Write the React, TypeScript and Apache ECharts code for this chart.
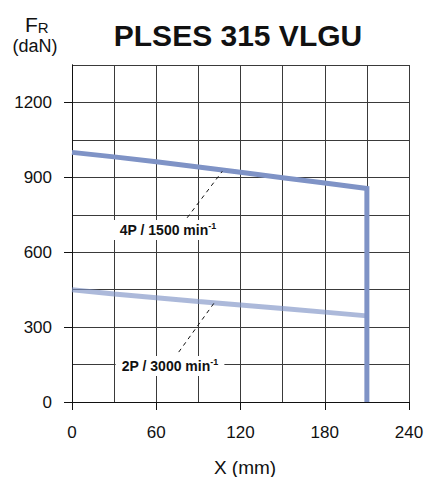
import React, { useEffect, useRef } from "react";
import * as echarts from "echarts";

const title = "PLSES 315 VLGU";
const xTicks = [0, 60, 120, 180, 240];
const yTicks = [0, 300, 600, 900, 1200];
const xPositions = [0, 30, 60, 90, 120, 150, 180, 210];
const fr4P = [1000, 982, 962, 941, 920, 898, 877, 855];
const fr2P = [450, 433, 418, 403, 389, 375, 360, 345];
const xMax = 210;
const leader4P = [[82, 738], [107, 924]];
const leader2P = [[76, 200], [101, 395]];
const label4P = ["4P / 1500 min", "-1"];
const label2P = ["2P / 3000 min", "-1"];

const FONT = "'Liberation Sans', Arial, sans-serif";

export default function App() {
  const ref = useRef<HTMLDivElement>(null);
  useEffect(() => {
    if (!ref.current) return;
    const chart = echarts.init(ref.current, undefined, { renderer: "svg" });
    const line4P = xPositions.map((x, i) => [x, fr4P[i]]);
    line4P.push([xMax, 0]);
    const line2P = xPositions.map((x, i) => [x, fr2P[i]]);
    const blue = "#7f93c6";
    const richLabel = (parts: string[]) => ({
      type: "text",
      style: {
        text: `{a|${parts[0]}}{s|${parts[1]}}`,
        rich: {
          a: { fontSize: 14, fontWeight: "bold", fontFamily: FONT, fill: "#111", lineHeight: 18 },
          s: { fontSize: 9, fontWeight: "bold", fontFamily: FONT, fill: "#111", lineHeight: 10, verticalAlign: "top" },
        },
        backgroundColor: "#fff",
        padding: [1, 6],
        align: "center",
        verticalAlign: "middle",
      },
    });
    const gridLine = { show: true, lineStyle: { color: "#3a3a3a", width: 1 } };
    const axisLine = { show: true, lineStyle: { color: "#111", width: 1 } };
    const numLabel = {
      fontSize: 17,
      fontFamily: FONT,
      color: "#111",
      formatter: (v: number) => String(v),
    };
    chart.setOption({
      animation: false,
      backgroundColor: "#fff",
      grid: { left: 72, right: 18, top: 65, bottom: 75 },
      xAxis: [
        {
          type: "value",
          min: 0,
          max: 240,
          interval: 30,
          axisLine,
          axisTick: { show: false },
          axisLabel: { show: false },
          splitLine: gridLine,
        },
        {
          type: "value",
          position: "bottom",
          offset: 0,
          min: 0,
          max: 240,
          interval: 60,
          axisLine,
          axisTick: { show: true, length: 8, customValues: xTicks, lineStyle: { color: "#111" } },
          axisLabel: { ...numLabel, customValues: xTicks, margin: 22 },
          splitLine: { show: false },
        },
      ],
      yAxis: [
        {
          type: "value",
          min: 0,
          max: 1350,
          interval: 150,
          axisLine,
          axisTick: { show: false },
          axisLabel: { show: false },
          splitLine: gridLine,
        },
        {
          type: "value",
          position: "left",
          offset: 0,
          min: 0,
          max: 1350,
          interval: 150,
          axisLine,
          axisTick: { show: true, length: 8, customValues: yTicks, lineStyle: { color: "#111" } },
          axisLabel: { ...numLabel, customValues: yTicks, margin: 20 },
          splitLine: { show: false },
        },
      ],
      series: [
        {
          type: "line",
          data: line2P,
          symbol: "none",
          lineStyle: { color: "rgba(127,147,198,0.65)", width: 5 },
          z: 2,
        },
        {
          type: "line",
          data: line4P,
          symbol: "none",
          lineStyle: { color: blue, width: 5, join: "miter", cap: "butt" },
          z: 3,
        },
        {
          type: "line",
          data: leader4P,
          symbol: "none",
          lineStyle: { color: "#111", width: 1, type: [4, 4] },
          z: 4,
        },
        {
          type: "line",
          data: leader2P,
          symbol: "none",
          lineStyle: { color: "#111", width: 1, type: [4, 4] },
          z: 4,
        },
      ],
      graphic: [
        {
          type: "text",
          x: 238,
          y: 35,
          style: {
            text: title,
            fontSize: 30,
            fontWeight: "bold",
            fontFamily: FONT,
            fill: "#111",
            align: "center",
            verticalAlign: "middle",
          },
        },
        {
          type: "text",
          x: 25,
          y: 27,
          style: {
            text: "{f|F}{r|R}",
            rich: {
              f: { fontSize: 21, fontFamily: FONT, fill: "#111", lineHeight: 16, verticalAlign: "bottom" },
              r: { fontSize: 15, fontFamily: FONT, fill: "#111", lineHeight: 12, verticalAlign: "bottom" },
            },
            align: "left",
            verticalAlign: "middle",
          },
        },
        {
          type: "text",
          x: 35,
          y: 46,
          style: { text: "(daN)", fontSize: 18, lineHeight: 17, fontFamily: FONT, fill: "#111", align: "center", verticalAlign: "middle" },
        },
        {
          type: "text",
          x: 245,
          y: 467,
          style: { text: "X (mm)", fontSize: 19, fontFamily: FONT, fill: "#111", align: "center", verticalAlign: "middle" },
        },
        { ...richLabel(label4P), x: 168, y: 230, z: 10 },
        { ...richLabel(label2P), x: 170, y: 366, z: 10 },
      ],
    });
    return () => chart.dispose();
  }, []);
  return <div ref={ref} style={{ position: "absolute", left: 0, top: 0, width: 427, height: 477 }} />;
}
